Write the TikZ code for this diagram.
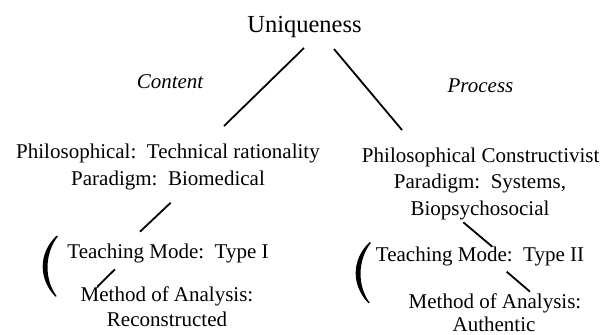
\documentclass[tikz,border=0pt]{standalone}
\usepackage{fontspec}
\setmainfont{Liberation Serif}
\begin{document}
\begin{tikzpicture}[x=1pt,y=-1pt,
  txt/.style={anchor=base,inner sep=0pt,font=\fontsize{21}{25}\selectfont},
  ital/.style={anchor=base,inner sep=0pt,font=\fontsize{21}{25}\selectfont\itshape},
  title/.style={anchor=base,inner sep=0pt,font=\fontsize{24.5}{29}\selectfont},
  conn/.style={line width=1.8pt},
  bigparen/.pic={\fill[black] (56.5,235.7) .. controls (37.5,254) and (39,280) .. (55.5,296.7)
      -- (56.7,296.2) .. controls (44.5,280) and (44,254) .. (58,236.2) -- cycle;}]
\useasboundingbox (0,0) rectangle (606,335);
% title and branch labels
\node[title] (uniq) at (304.5,32.5) {Uniqueness};
\node[ital] (content) at (170,88) {Content};
\node[ital] (process) at (480.5,92) {Process};
% left column
\node[txt] (lphil) at (168,158) {Philosophical:\ \ Technical rationality};
\node[txt] (lpar) at (168,185) {Paradigm:\ \ Biomedical};
\node[txt] (lteach) at (168,258.3) {Teaching Mode:\ \ Type I};
\node[txt] (lmeth) at (167,301.7) {Method of Analysis:};
\node[txt] (lrec) at (167,326.7) {Reconstructed};
% right column
\node[txt] (rphil) at (480.7,162) {Philosophical Constructivist};
\node[txt] (rpar) at (480,188.5) {Paradigm:\ \ Systems,};
\node[txt] (rbio) at (480,215) {Biopsychosocial};
\node[txt] (rteach) at (480,261.7) {Teaching Mode:\ \ Type II};
\node[txt] (rmeth) at (495,308.3) {Method of Analysis:};
\node[txt] (rauth) at (494,331.7) {Authentic};
% connector end points
\coordinate (ua) at (304,48);
\coordinate (ub) at (334,49);
\coordinate (la) at (224,126);
\coordinate (ra) at (402,130);
\coordinate (l1) at (170.7,202.7);
\coordinate (l2) at (140,231.7);
\coordinate (l3) at (115,269.3);
\coordinate (l4) at (97.3,286.7);
\coordinate (r1) at (463.3,222.3);
\coordinate (r2) at (492.3,246.7);
\coordinate (r3) at (506.7,271.7);
\coordinate (r4) at (530,291.7);
\draw[conn] (ua) -- (la);
\draw[conn] (ub) -- (ra);
\draw[conn] (l1) -- (l2);
\draw[conn] (l3) -- (l4);
\draw[conn] (r1) -- (r2);
\draw[conn] (r3) -- (r4);
% brackets
\pic (lparen) at (0,0) {bigparen};
\pic (rparen) at (313,6.5) {bigparen};
\end{tikzpicture}
\end{document}
